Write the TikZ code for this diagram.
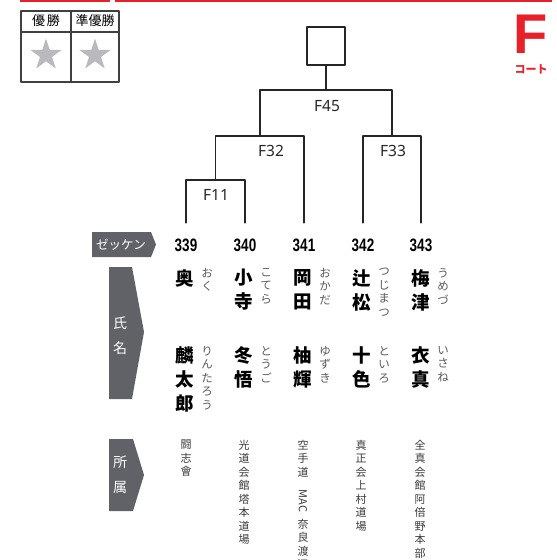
\documentclass[tikz,border=0pt]{standalone}
\usepackage{fontspec}
\setmainfont{Noto Sans}
\newfontfamily\jp{Noto Sans CJK JP}
\newfontfamily\numfont{Liberation Sans}
\usetikzlibrary{shapes.geometric}
\definecolor{akared}{HTML}{E8202A}
\definecolor{tabgray}{HTML}{606268}
\definecolor{stargray}{HTML}{B9B9BE}
\definecolor{inkgray}{HTML}{3A3A3A}

\begin{document}
\begin{tikzpicture}[line cap=round,line join=round,x=1pt,y=-1pt,
	bout/.style={line width=1.6pt,color=black!85},
	flab/.style={font=\fontsize{15.5}{15.5}\selectfont,color=black!85,inner sep=0pt},
	num/.style={font=\numfont\bfseries\fontsize{18}{18}\selectfont,minimum height=44pt,inner sep=0pt},
	sei/.style={font=\jp\bfseries\fontsize{18.5}{24}\selectfont,align=center,anchor=north,inner sep=0pt},
	yomi/.style={font=\jp\fontsize{11.5}{13.5}\selectfont,align=center,anchor=north,inner sep=0pt,color=black!65},
	shozoku/.style={font=\jp\fontsize{11}{13.5}\selectfont,align=center,anchor=north,inner sep=0pt,color=inkgray},
	tabtxt/.style={font=\jp\fontsize{14}{25}\selectfont,color=white,align=center,inner sep=0pt}]
		\useasboundingbox (0,0) rectangle (557,560);
		%\draw[help lines,xstep=50pt,ystep=-50pt] (0,0) grid (557,560);
		\fill[akared] (20,0) rectangle (110,1.8);
		\fill[akared] (115,0) rectangle (552,1.8);
		% trophy table
		\draw[line width=1.2pt,color=black!75] (21,11) rectangle (119,82) (21,32) -- (119,32) (71,11) -- (71,82);
		\node[font=\jp\fontsize{13}{13}\selectfont] (yusho) at (46,21) {優\hspace{2pt}勝};
		\node[font=\jp\fontsize{13}{13}\selectfont] (junyusho) at (95,21) {準優勝};
		\node[star,star points=5,star point ratio=2.618,fill=stargray,minimum size=33pt,inner sep=0pt] (st1) at (46,55) {};
		\node[star,star points=5,star point ratio=2.618,fill=stargray,minimum size=33pt,inner sep=0pt] (st2) at (95,55) {};
		\node[font=\numfont\bfseries\fontsize{56}{56}\selectfont,color=akared,inner sep=0pt] (court) at (531,34) {F};
		\node[font=\jp\bfseries\fontsize{11}{11}\selectfont,color=akared,inner sep=0pt] (courtlab) at (531,69.5) {コート};
		% bracket
		\foreach \x/\no in {186/339,245/340,304/341,363/342,421/343}
		\node[num] (n\no) at (\x,245) {\scalebox{.75}[1]{\no}};
		\coordinate (j11) at (215.5,180);
		\coordinate (j32) at (260,136);
		\coordinate (j33) at (392,136);
		\coordinate (j45) at (326,90);
		\node[draw,line width=1.6pt,color=black!85,minimum size=38pt,inner sep=0pt] (win) at (326,46) {};
		\draw[bout] (n339.north) |- (j11) -| (n340.north);
		\draw[bout] (j11) |- (j32) -| (n341.north);
		\draw[bout] (n342.north) |- (j33) -| (n343.north);
		\draw[bout] (j32) |- (j45) -| (j33);
		\draw[bout] (j45) -- (win.south);
		\node[flab] (f11) at (216,195) {F11};
		\node[flab] (f32) at (271,151) {F32};
		\node[flab] (f33) at (393,151) {F33};
		\node[flab] (f45) at (327,106) {F45};
		% row tabs
		\fill[tabgray] (92,232) -- (151,232) -- (156,244.5) -- (151,257) -- (92,257) -- cycle;
		\node[font=\jp\fontsize{12.5}{12.5}\selectfont,color=white,inner sep=0pt] (zekken) at (121,244.5) {ゼッケン};
		\fill[tabgray] (109,267) -- (132,267) -- (144,332) -- (132,399) -- (109,399) -- cycle;
		\node[tabtxt] (shimei) at (120,335.5) {氏\\名};
		\fill[tabgray] (109,439) -- (133,439) -- (144,475) -- (133,511) -- (109,511) -- cycle;
		\node[tabtxt] (shozokulab) at (120,474.5) {所\\属};
		% names
		\foreach \x/\a/\b [count=\i] in {185/奥/お\\く,244/小\\寺/こ\\て\\ら,303/岡\\田/お\\か\\だ,362/辻\\松/つ\\じ\\ま\\つ,421/梅\\津/う\\め\\づ}{
			\node[sei] (sa\i) at (\x,269) {\a};
			\node[yomi] (ya\i) at (\x+22,268) {\b};
		}
		\foreach \x/\a/\b [count=\i] in {185/麟\\太\\郎/り\\ん\\た\\ろ\\う,244/冬\\悟/と\\う\\ご,303/柚\\輝/ゆ\\ず\\き,362/十\\色/と\\い\\ろ,421/衣\\真/い\\さ\\ね}{
			\node[sei] (sb\i) at (\x,346) {\a};
			\node[yomi] (yb\i) at (\x+22,346) {\b};
		}
		% affiliations
		\foreach \x/\t [count=\i] in {186/闘\\志\\會,244/光\\道\\会\\館\\塔\\本\\道\\場,361/真\\正\\会\\上\\村\\道\\場,420/全\\真\\会\\館\\阿\\倍\\野\\本\\部}
		\node[shozoku] (so\i) at (\x,440) {\t};
		\node[shozoku] (so5) at (303,440) {空\\手\\道};
		\node[shozoku,anchor=center,rotate=-90] (mac) at (303,501) {MAC};
		\node[shozoku] (so6) at (303,519) {奈\\良\\渡\\辺};
\end{tikzpicture}
\end{document}
